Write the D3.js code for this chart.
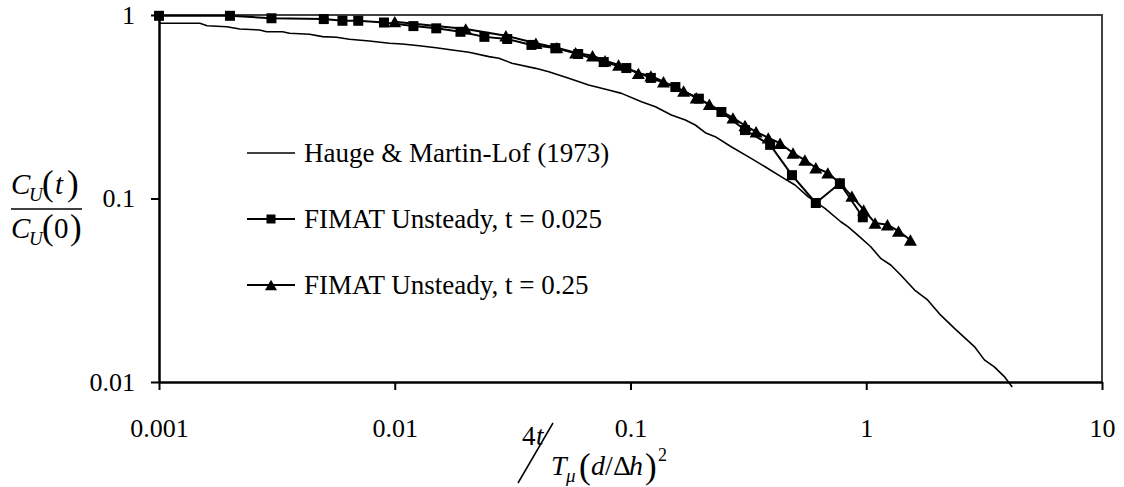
<!DOCTYPE html>
<html>
<head>
<meta charset="utf-8">
<script src="https://cdn.jsdelivr.net/npm/d3@7"></script>
<style>
  body { margin: 0; background: #fff; }
</style>
</head>
<body>
<div class="canvas"></div>
<script>
//? DATA ARRAYS
const haugeX = [0.001, 0.00149, 0.0016, 0.00194, 0.0022, 0.00267, 0.00286, 0.00334, 0.00358, 0.00435,
  0.00494, 0.00566, 0.00642, 0.0078, 0.00948, 0.01076, 0.0127, 0.01498, 0.01751, 0.02065,
  0.02509, 0.02767, 0.03139, 0.0396, 0.045, 0.0547, 0.0664, 0.0807, 0.0916, 0.1113,
  0.1276, 0.149, 0.1709, 0.1883, 0.2075, 0.2287, 0.2673, 0.3155, 0.3722, 0.435,
  0.4985, 0.5659, 0.6679, 0.78, 0.8356, 0.9205, 1.045, 1.151, 1.27, 1.4,
  1.604, 1.821, 2.065, 2.367, 2.875, 3.17, 3.493, 3.852, 4.16]
const haugeY = [0.901, 0.901, 0.874, 0.863, 0.839, 0.829, 0.811, 0.811, 0.795, 0.785,
  0.762, 0.756, 0.737, 0.722, 0.701, 0.695, 0.68, 0.663, 0.645, 0.626,
  0.593, 0.581, 0.546, 0.512, 0.491, 0.452, 0.4155, 0.39, 0.374, 0.337,
  0.316, 0.285, 0.268, 0.2515, 0.2284, 0.2172, 0.1915, 0.169, 0.149, 0.1315,
  0.1185, 0.1023, 0.0884, 0.0747, 0.0702, 0.0632, 0.0546, 0.0472, 0.0434, 0.0383,
  0.0317, 0.028, 0.0232, 0.0196, 0.0156, 0.0132, 0.0121, 0.0107, 0.0094]

const fimat025X = [0.001, 0.002, 0.003, 0.005, 0.006, 0.007, 0.009, 0.012, 0.015, 0.019,
  0.024, 0.03, 0.038, 0.048, 0.06, 0.077, 0.096, 0.122, 0.155, 0.195,
  0.243, 0.306, 0.391, 0.484, 0.611, 0.773, 0.967]
const fimat025Y = [0.99, 0.99, 0.96, 0.95, 0.93, 0.93, 0.91, 0.87, 0.846, 0.81,
  0.76, 0.74, 0.687, 0.66, 0.613, 0.554, 0.514, 0.454, 0.405, 0.35,
  0.296, 0.236, 0.196, 0.134, 0.0945, 0.121, 0.079]

const fimat25X = [0.01, 0.02, 0.0296, 0.0397, 0.0487, 0.0585, 0.069, 0.078, 0.089, 0.108,
  0.122, 0.138, 0.168, 0.19, 0.216, 0.272, 0.306, 0.341, 0.384, 0.431,
  0.489, 0.549, 0.611, 0.687, 0.773, 0.869, 0.975, 1.09, 1.23, 1.37, 1.54]
const fimat25Y = [0.92, 0.84, 0.771, 0.701, 0.664, 0.623, 0.6, 0.563, 0.534, 0.481,
  0.466, 0.433, 0.385, 0.354, 0.326, 0.275, 0.25, 0.231, 0.214, 0.2,
  0.177, 0.162, 0.147, 0.138, 0.121, 0.103, 0.0866, 0.0736, 0.072, 0.0664, 0.0594]

const xTicks = [0.001, 0.01, 0.1, 1, 10]
const xTickLabels = ['0.001', '0.01', '0.1', '1', '10']
const yTicks = [0.01, 0.1, 1]
const yTickLabels = ['0.01', '0.1', '1']
const legendLabels = ['Hauge & Martin-Lof (1973)', 'FIMAT Unsteady, t = 0.025', 'FIMAT Unsteady, t = 0.25']

//? LAYOUT
const dims = { width: 1124, height: 487 }
const plot = { left: 159, right: 1102, top: 15, bottom: 382 }
const fontSize = 26
const serif = 'Liberation Serif'

const svg = d3
  .select('.canvas')
  .append('svg')
  .attr('width', dims.width)
  .attr('height', dims.height)
  .attr('font-family', serif)

//? SCALES
const x = d3.scaleLog().domain([0.001, 10]).range([plot.left, plot.right])
const y = d3.scaleLog().domain([0.01, 1]).range([plot.bottom, plot.top])

//* ========== FRAME + AXES =============
// top and right border of the plot area
svg.append('path')
  .attr('d', `M${plot.left},${plot.top}H${plot.right}V${plot.bottom}`)
  .attr('fill', 'none')
  .attr('stroke', '#404040')
  .attr('stroke-width', 2)

const xAxis = d3.axisBottom(x)
  .tickValues(xTicks)
  .tickFormat((d, i) => xTickLabels[i])
  .tickSizeInner(8)
  .tickSizeOuter(0)
  .tickPadding(29)

const yAxis = d3.axisLeft(y)
  .tickValues(yTicks)
  .tickFormat((d, i) => yTickLabels[i])
  .tickSizeInner(8)
  .tickSizeOuter(0)
  .tickPadding(16)

const gx = svg.append('g')
  .attr('transform', `translate(0, ${plot.bottom})`)
  .call(xAxis)
const gy = svg.append('g')
  .attr('transform', `translate(${plot.left}, 0)`)
  .call(yAxis)

;[gx, gy].forEach(g => {
  g.attr('font-family', serif).attr('font-size', fontSize)
  g.select('.domain').attr('stroke', '#000').attr('stroke-width', 2.5)
  g.selectAll('.tick line').attr('stroke', '#000').attr('stroke-width', 2)
  g.selectAll('.tick text').attr('fill', '#000').attr('font-family', serif)
})

//* ========== SERIES =============
const line = d3.line()
  .x(d => x(d[0]))
  .y(d => y(d[1]))

const series = [
  { name: legendLabels[0], pts: d3.zip(haugeX, haugeY), marker: null, width: 1.6 },
  { name: legendLabels[1], pts: d3.zip(fimat025X, fimat025Y), marker: 'square', width: 2 },
  { name: legendLabels[2], pts: d3.zip(fimat25X, fimat25Y), marker: 'triangle', width: 2 }
]

// marker shapes, centred on their bounding box like the spreadsheet markers
const markerPath = (type, s) => {
  if (type === 'square') return `M${-s / 2},${-s / 2}h${s}v${s}h${-s}Z`
  const h = s * 0.95
  return `M0,${-h / 2}L${s / 2 + 0.5},${h / 2}L${-s / 2 - 0.5},${h / 2}Z`
}

const graph = svg.append('g')

series.forEach(s => {
  graph.append('path')
    .datum(s.pts)
    .attr('d', line)
    .attr('fill', 'none')
    .attr('stroke', '#000')
    .attr('stroke-width', s.width)
    .attr('stroke-linejoin', 'round')

  if (s.marker) {
    graph.append('g')
      .selectAll('path')
      .data(s.pts)
      .join('path')
      .attr('transform', d => `translate(${x(d[0])}, ${y(d[1])})`)
      .attr('d', markerPath(s.marker, s.marker === 'square' ? 10 : 12))
      .attr('fill', '#000')
  }
})

//* ========== LEGEND =============
const legend = svg.append('g').attr('transform', 'translate(247, 153)')
const rowGap = 66

series.forEach((s, i) => {
  const row = legend.append('g').attr('transform', `translate(0, ${i * rowGap})`)
  row.append('line')
    .attr('x1', 0).attr('x2', 48)
    .attr('stroke', '#000').attr('stroke-width', s.width)
  if (s.marker) {
    row.append('path')
      .attr('transform', 'translate(24, 0)')
      .attr('d', markerPath(s.marker, s.marker === 'square' ? 9 : 11))
      .attr('fill', '#000')
  }
  row.append('text')
    .attr('x', 57)
    .attr('y', 9)
    .attr('font-family', serif)
    .attr('font-size', 27)
    .text(s.name)
})

//* ========== AXIS TITLES (equation style) =============
const putPieces = pieces => {
  pieces.forEach(p => {
    svg.append('text')
      .attr('x', p.x)
      .attr('y', p.y)
      .attr('font-family', serif)
      .attr('font-size', p.size)
      .attr('font-style', p.italic ? 'italic' : 'normal')
      .text(p.t)
  })
}

// y title: C_U(t) / C_U(0)
putPieces([
  { t: 'C', x: 11, y: 194, size: 29, italic: true },
  { t: 'U', x: 29, y: 201, size: 19, italic: true },
  { t: '(', x: 42, y: 195, size: 35 },
  { t: 't', x: 55, y: 194, size: 29, italic: true },
  { t: ')', x: 67, y: 195, size: 35 },
  { t: 'C', x: 11, y: 238, size: 29, italic: true },
  { t: 'U', x: 29, y: 245, size: 19, italic: true },
  { t: '(', x: 42, y: 239, size: 35 },
  { t: '0', x: 54, y: 238, size: 29 },
  { t: ')', x: 70, y: 239, size: 35 }
])
svg.append('line')
  .attr('x1', 11).attr('x2', 82)
  .attr('y1', 209).attr('y2', 209)
  .attr('stroke', '#000').attr('stroke-width', 1.5)

// x title: 4t / T_mu (d/Δh)^2
putPieces([
  { t: '4', x: 522, y: 445, size: 27 },
  { t: 't', x: 536, y: 445, size: 27, italic: true },
  { t: 'T', x: 551, y: 475, size: 28, italic: true },
  { t: 'μ', x: 566, y: 482, size: 19, italic: true },
  { t: '(', x: 579, y: 478, size: 35 },
  { t: 'd', x: 591, y: 475, size: 28, italic: true },
  { t: '/', x: 605, y: 475, size: 28 },
  { t: 'Δ', x: 613, y: 475, size: 28 },
  { t: 'h', x: 629, y: 475, size: 28, italic: true },
  { t: ')', x: 645, y: 478, size: 35 },
  { t: '2', x: 658, y: 461, size: 18 }
])
svg.append('line')
  .attr('x1', 518).attr('y1', 483)
  .attr('x2', 553).attr('y2', 423)
  .attr('stroke', '#000').attr('stroke-width', 1.5)
</script>
</body>
</html>
